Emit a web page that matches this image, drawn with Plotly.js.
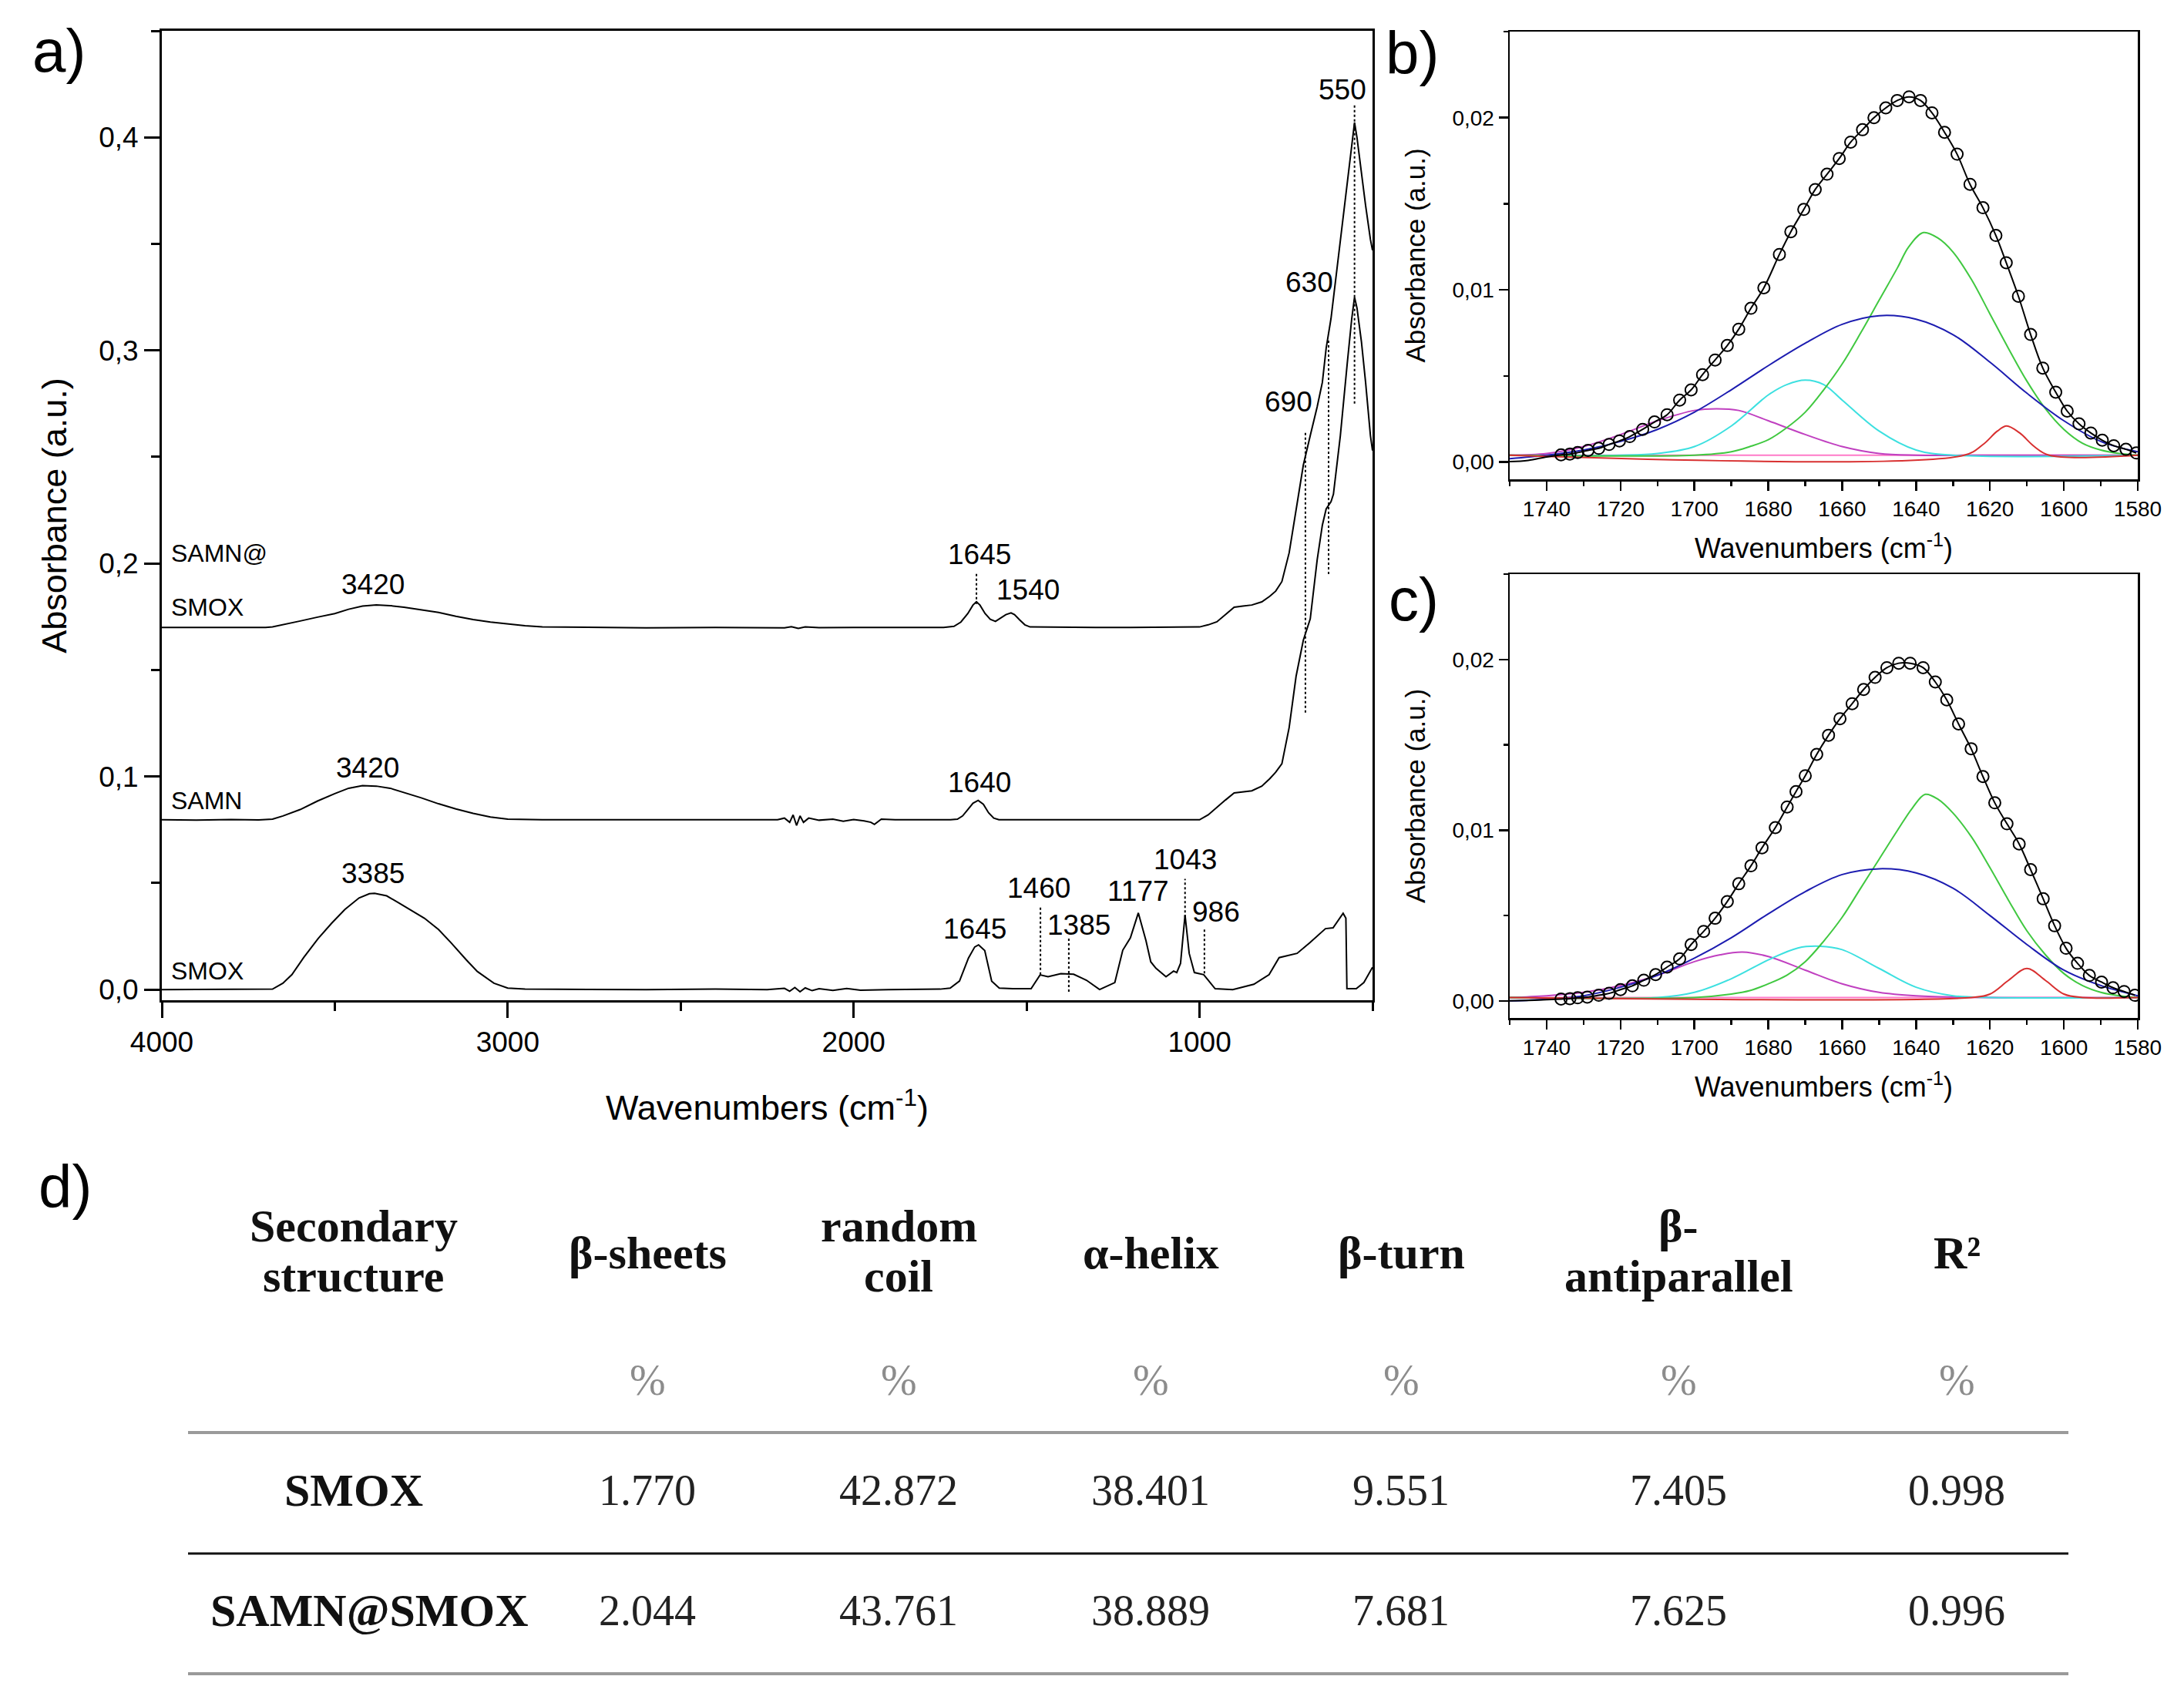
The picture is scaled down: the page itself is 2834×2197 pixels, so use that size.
<!DOCTYPE html>
<html>
<head>
<meta charset="utf-8">
<script src="https://cdn.plot.ly/plotly-3.0.1.min.js"></script>
<style>html,body{margin:0;padding:0;background:#fff;}#plot{width:2834px;height:2197px;}</style>
</head>
<body>
<div id="plot"></div>
<script>
// ---------------- Panel a: FTIR spectra ----------------
const smoxX = [4000,3900,3800,3700,3680,3650,3624,3590,3548,3510,3471,3430,3400,3385,3350,3318,3280,3241,3200,3164,3120,3088,3040,3000,2950,2800,2600,2400,2250,2200,2185,2170,2155,2140,2120,2100,2060,2020,1980,1900,1800,1750,1721,1694,1668,1650,1639,1621,1601,1579,1540,1487,1461,1438,1401,1364,1327,1289,1245,1222,1200,1177,1155,1141,1126,1111,1097,1075,1066,1055,1042,1030,1015,988,955,904,843,799,770,718,681,636,614,585,577,574,547,525,500];
const smoxY = [0,0,0,0,0.0002,0.0030,0.0070,0.0150,0.0240,0.0310,0.0376,0.0430,0.0450,0.0452,0.0440,0.0410,0.0372,0.0335,0.0282,0.0220,0.0140,0.0085,0.0030,0.0007,0.0002,0,0,0.0002,0,0.0006,-0.0008,0.0010,-0.0010,0.0008,-0.0005,0.0004,-0.0004,0.0005,-0.0003,0,0,0.0002,0.0007,0.0040,0.0148,0.0200,0.0210,0.0183,0.0040,0.0007,0.0004,0.0004,0.0069,0.0060,0.0075,0.0072,0.0044,0.0000,0.0033,0.0185,0.0243,0.0360,0.0230,0.0130,0.0100,0.0080,0.0060,0.0087,0.0080,0.0123,0.0350,0.0170,0.0080,0.0070,0.0004,0.0000,0.0025,0.0070,0.0150,0.0170,0.0220,0.0286,0.0290,0.0358,0.0335,0.0004,0.0004,0.0033,0.0105];

const samnX = [4000,3900,3800,3720,3680,3650,3600,3550,3500,3460,3420,3380,3340,3300,3250,3200,3150,3100,3050,3000,2900,2700,2500,2300,2220,2200,2185,2175,2165,2155,2145,2130,2100,2060,2030,2000,1970,1950,1940,1920,1880,1800,1720,1700,1685,1670,1655,1640,1625,1610,1595,1580,1500,1400,1300,1200,1100,1000,975,951,925,900,875,849,820,797,780,762,741,721,700,680,660,645,634,620,613,593,573,560,552,545,532,520,506,500];
const samnY = [0.0797,0.0795,0.0798,0.0796,0.0800,0.0815,0.0845,0.0885,0.0920,0.0945,0.0957,0.0955,0.0945,0.0925,0.0900,0.0872,0.0848,0.0827,0.0810,0.0800,0.0797,0.0797,0.0797,0.0798,0.0797,0.0805,0.0785,0.0820,0.0770,0.0815,0.0785,0.0805,0.0795,0.0800,0.0790,0.0798,0.0792,0.0785,0.0775,0.0800,0.0797,0.0797,0.0797,0.0800,0.0815,0.0845,0.0875,0.0888,0.0870,0.0830,0.0805,0.0797,0.0797,0.0797,0.0797,0.0797,0.0797,0.0797,0.0820,0.0855,0.0890,0.0923,0.0928,0.0933,0.0955,0.0990,0.1020,0.1060,0.1230,0.1470,0.1640,0.1740,0.2017,0.2180,0.2256,0.2290,0.2325,0.2600,0.2940,0.3150,0.3250,0.3200,0.3040,0.2850,0.2600,0.2530];

const samnSmoxX = [4000,3900,3800,3700,3680,3640,3600,3550,3500,3460,3420,3380,3340,3300,3250,3200,3150,3100,3050,3000,2950,2900,2800,2600,2400,2200,2180,2160,2140,2100,2000,1900,1800,1740,1710,1690,1670,1655,1645,1635,1620,1605,1590,1575,1560,1545,1535,1520,1505,1490,1400,1300,1200,1100,1000,975,950,925,900,875,849,820,797,780,762,741,721,700,680,660,645,634,620,603,588,573,560,552,545,532,520,506,500];
const samnSmoxY = [0.1700,0.1700,0.1698,0.1700,0.1702,0.1715,0.1730,0.1748,0.1765,0.1785,0.1800,0.1805,0.1802,0.1795,0.1783,0.1770,0.1752,0.1737,0.1725,0.1716,0.1708,0.1702,0.1700,0.1698,0.1700,0.1698,0.1703,0.1695,0.1702,0.1699,0.1700,0.1700,0.1700,0.1700,0.1705,0.1725,0.1765,0.1805,0.1820,0.1805,0.1765,0.1738,0.1728,0.1745,0.1760,0.1768,0.1760,0.1735,0.1712,0.1702,0.1700,0.1700,0.1700,0.1700,0.1702,0.1712,0.1726,0.1760,0.1795,0.1800,0.1805,0.1820,0.1846,0.1870,0.1915,0.2050,0.2256,0.2462,0.2600,0.2735,0.2850,0.3010,0.3150,0.3380,0.3600,0.3795,0.3980,0.4070,0.4000,0.3830,0.3680,0.3520,0.3470];

// peak labels (panel a)
const peakLabels = ['550','630','690','1645','1540','3420','3420','1640','3385','1645','1460','1385','1177','1043','986'];
const peakLabelWn = [587,683,743,1636,1496,3389,3405,1636,3389,1650,1465,1349,1178,1042,953];
const peakLabelY = [0.4224,0.332,0.276,0.2043,0.1877,0.190,0.1042,0.097,0.0546,0.0286,0.0477,0.0304,0.046,0.061,0.0365];
// dotted marker lines (panel a)
const dropWn = [552,627,694,1645,1460,1378,1042,986];
const dropTop = [0.415,0.305,0.262,0.196,0.0394,0.024,0.052,0.0286];
const dropBottom = [0.275,0.195,0.130,0.181,0.007,-0.001,0.034,0.0076];
// sample names (panel a)
const sampleNames = ['SAMN@','SMOX','SAMN','SMOX'];
const sampleNameY = [0.2047,0.1794,0.0886,0.0087];

// ---------------- Panel b: SMOX amide I deconvolution ----------------
const bCircX = [1736.1,1733.7,1731.6,1728.8,1725.9,1723.1,1720.3,1717.5,1714.0,1710.8,1707.4,1704.0,1700.9,1697.8,1694.4,1691.1,1688.0,1684.7,1681.2,1677.0,1673.9,1670.4,1667.3,1664.1,1660.8,1657.7,1654.5,1651.4,1648.2,1645.1,1641.9,1638.8,1635.7,1632.3,1628.9,1625.4,1621.9,1618.4,1615.6,1612.3,1609.0,1605.7,1602.2,1599.1,1595.9,1592.7,1589.6,1586.5,1583.2,1580.4];
const bCircY = [0.00042,0.00047,0.00055,0.00068,0.00080,0.00102,0.00123,0.00148,0.00190,0.00233,0.00275,0.00360,0.00419,0.00508,0.00593,0.00677,0.00772,0.00893,0.01012,0.01206,0.01338,0.01467,0.01583,0.01672,0.01763,0.01858,0.01930,0.02000,0.02057,0.02100,0.02121,0.02100,0.02028,0.01915,0.01788,0.01613,0.01477,0.01316,0.01158,0.00963,0.00741,0.00546,0.00406,0.00296,0.00222,0.00169,0.00127,0.00095,0.00074,0.00053];
const bFitLeadX = [1750,1745,1740];
const bFitLeadY = [0.00003,0.0001,0.0003];
const bBaseX = [1750,1580];
const bBaseY = [0.0004,0.0004];
const bMagX = [1750,1740,1730,1720,1710,1700,1694,1688,1680,1670,1660,1650,1640,1620,1580];
const bMagY = [0.0004,0.0005,0.0009,0.0016,0.0024,0.0030,0.0031,0.0030,0.0024,0.0016,0.0009,0.0005,0.0004,0.0004,0.0004];
const bCyanX = [1750,1720,1710,1700,1690,1680,1675,1670,1665,1660,1650,1640,1630,1580];
const bCyanY = [0.0004,0.0004,0.0005,0.0009,0.0021,0.0039,0.0045,0.00476,0.0045,0.0036,0.0018,0.0007,0.0004,0.0004];
const bBlueX = [1750,1740,1730,1720,1710,1700,1690,1680,1670,1660,1650,1640,1630,1620,1610,1600,1590,1580];
const bBlueY = [0.0002,0.0004,0.0007,0.0012,0.0019,0.0029,0.0042,0.0056,0.0069,0.0080,0.0085,0.0083,0.0074,0.0058,0.0040,0.0024,0.0012,0.0006];
const bGreenX = [1750,1700,1690,1685,1680,1675,1670,1665,1660,1655,1650,1645,1642,1638,1634,1630,1625,1620,1615,1610,1605,1600,1595,1590,1585,1580];
const bGreenY = [0.0004,0.0004,0.0006,0.0009,0.0013,0.0020,0.0029,0.0042,0.0057,0.0075,0.0094,0.0113,0.0125,0.01333,0.0130,0.0122,0.0106,0.0086,0.0066,0.0047,0.0031,0.0019,0.0011,0.0007,0.0005,0.0004];
const bRedX = [1750,1627,1622,1618,1615.5,1612,1608,1604,1580];
const bRedY = [0.0004,0.0004,0.0010,0.0018,0.0021,0.0017,0.0009,0.0004,0.0004];

// ---------------- Panel c: SAMN@SMOX amide I deconvolution ----------------
const cCircX = [1736.1,1733.7,1731.6,1729.0,1725.9,1723.1,1720.0,1716.8,1713.7,1710.5,1707.4,1704.0,1700.9,1697.5,1694.4,1691.1,1688.0,1684.7,1681.7,1678.1,1674.9,1672.5,1670.0,1666.9,1663.7,1660.6,1657.3,1654.2,1651.1,1647.9,1644.7,1641.6,1638.1,1634.8,1631.7,1628.5,1625.1,1621.9,1618.7,1615.4,1612.1,1609.0,1605.6,1602.5,1599.4,1596.3,1593.1,1589.8,1586.7,1583.7,1580.8];
const cCircY = [0.00011,0.00013,0.00018,0.00022,0.00033,0.00044,0.00066,0.00088,0.00121,0.00154,0.00198,0.00246,0.00330,0.00407,0.00484,0.00582,0.00686,0.00791,0.00897,0.01015,0.01136,0.01226,0.01319,0.01444,0.01556,0.01653,0.01741,0.01824,0.01895,0.01952,0.01978,0.01978,0.01952,0.01868,0.01763,0.01622,0.01477,0.01314,0.01160,0.01037,0.00919,0.00769,0.00598,0.00440,0.00308,0.00220,0.00149,0.00110,0.00077,0.00055,0.00033];
const cFitLeadX = [1750,1745,1740];
const cFitLeadY = [0.0000,0.00003,0.00007];
const cBaseX = [1750,1580];
const cBaseY = [0.0002,0.0002];
const cMagX = [1750,1740,1730,1720,1710,1700,1693,1687,1680,1670,1660,1650,1640,1620,1580];
const cMagY = [0.0002,0.0003,0.0005,0.0009,0.0015,0.0023,0.0027,0.00286,0.0026,0.0018,0.0010,0.0005,0.0003,0.0002,0.0002];
const cCyanX = [1750,1710,1700,1690,1680,1672,1666,1660,1650,1640,1630,1620,1580];
const cCyanY = [0.0002,0.0002,0.0005,0.0013,0.0024,0.0031,0.0032,0.0030,0.0019,0.0008,0.0003,0.0002,0.0002];
const cBlueX = [1750,1740,1730,1720,1710,1700,1690,1680,1670,1660,1650,1640,1630,1620,1610,1600,1590,1580];
const cBlueY = [0.0000,0.0001,0.0003,0.0008,0.0015,0.0025,0.0037,0.0051,0.0064,0.0074,0.00774,0.0075,0.0066,0.0050,0.0033,0.0018,0.0009,0.0003];
const cGreenX = [1750,1700,1690,1685,1680,1675,1670,1665,1660,1655,1650,1645,1641,1637.5,1634,1630,1625,1620,1615,1610,1605,1600,1595,1590,1585,1580];
const cGreenY = [0.0002,0.0002,0.0004,0.0006,0.0010,0.0015,0.0023,0.0035,0.0049,0.0066,0.0083,0.0100,0.0113,0.0121,0.0118,0.0110,0.0096,0.0078,0.0059,0.0041,0.0027,0.0016,0.0009,0.0005,0.0003,0.0002];
const cRedX = [1750,1625,1620,1615,1610,1605,1600,1595,1580];
const cRedY = [0.0002,0.0002,0.0004,0.0012,0.0019,0.0012,0.0004,0.0002,0.0002];

// ---------------- Panel d: table ----------------
const tableHeaders = [['Secondary','structure'],['β-sheets'],['random','coil'],['α-helix'],['β-turn'],['β-','antiparallel'],['R²']];
const tableUnits = ['','%','%','%','%','%','%'];
const rowNames = ['SMOX','SAMN@SMOX'];
const smoxValues = ['1.770','42.872','38.401','9.551','7.405','0.998'];
const samnSmoxValues = ['2.044','43.761','38.889','7.681','7.625','0.996'];

// ---------------- Layout helpers ----------------
const W = 2834, H = 2197;
const px = x => x / W;
const py = y => 1 - y / H;
const SANS = 'Liberation Sans, Arial, sans-serif';
const SERIF = 'Liberation Serif, Times New Roman, serif';

const compColors = {base:'#ff7ac8', mag:'#c040c0', cyan:'#3ce0e0', blue:'#1c1cb0', green:'#40c840', red:'#d83030'};

function line(x, y, xa, ya, color, width, shape) {
  return {type:'scatter', mode:'lines', x:x, y:y, xaxis:xa, yaxis:ya,
          line:{color:color, width:width, shape:shape || 'linear'}, hoverinfo:'skip'};
}

const traces = [
  line(samnSmoxX, samnSmoxY, 'x', 'y', '#000', 2),
  line(samnX, samnY, 'x', 'y', '#000', 2),
  line(smoxX, smoxY, 'x', 'y', '#000', 2),

  line(bBaseX, bBaseY, 'x2', 'y2', compColors.base, 2),
  line(bMagX, bMagY, 'x2', 'y2', compColors.mag, 2, 'spline'),
  line(bCyanX, bCyanY, 'x2', 'y2', compColors.cyan, 2, 'spline'),
  line(bGreenX, bGreenY, 'x2', 'y2', compColors.green, 2, 'spline'),
  line(bBlueX, bBlueY, 'x2', 'y2', compColors.blue, 2, 'spline'),
  line(bRedX, bRedY, 'x2', 'y2', compColors.red, 2, 'spline'),
  line(bFitLeadX.concat(bCircX), bFitLeadY.concat(bCircY), 'x2', 'y2', '#000', 2, 'spline'),
  {type:'scatter', mode:'markers', x:bCircX, y:bCircY, xaxis:'x2', yaxis:'y2',
   marker:{symbol:'circle-open', size:15, color:'#000', line:{width:2, color:'#000'}}},

  line(cBaseX, cBaseY, 'x3', 'y3', compColors.base, 2),
  line(cMagX, cMagY, 'x3', 'y3', compColors.mag, 2, 'spline'),
  line(cCyanX, cCyanY, 'x3', 'y3', compColors.cyan, 2, 'spline'),
  line(cGreenX, cGreenY, 'x3', 'y3', compColors.green, 2, 'spline'),
  line(cBlueX, cBlueY, 'x3', 'y3', compColors.blue, 2, 'spline'),
  line(cRedX, cRedY, 'x3', 'y3', compColors.red, 2, 'spline'),
  line(cFitLeadX.concat(cCircX), cFitLeadY.concat(cCircY), 'x3', 'y3', '#000', 2, 'spline'),
  {type:'scatter', mode:'markers', x:cCircX, y:cCircY, xaxis:'x3', yaxis:'y3',
   marker:{symbol:'circle-open', size:15, color:'#000', line:{width:2, color:'#000'}}}
];

function axisBase(fontSize, tlen, mlen, lw) {
  return {showline:true, linecolor:'#000', linewidth:lw, mirror:true, showgrid:false, zeroline:false,
          ticks:'outside', ticklen:tlen, tickwidth:lw, tickcolor:'#000',
          tickfont:{family:SANS, size:fontSize, color:'#000'},
          minor:{ticks:'outside', ticklen:mlen, tickwidth:lw, tickcolor:'#000', showgrid:false}};
}

const xa = Object.assign(axisBase(37, 20, 11, 3), {
  domain:[px(210), px(1781)], range:[4000, 500], anchor:'y',
  tickmode:'linear', tick0:0, dtick:1000, tickformat:'d',
  title:{text:'Wavenumbers (cm<sup>-1</sup>)', font:{family:SANS, size:45, color:'#000'}, standoff:50}
});
xa.minor.dtick = 500; xa.minor.tick0 = 0;
const ya = Object.assign(axisBase(37, 20, 11, 3), {
  domain:[py(1298), py(40)], range:[-0.005, 0.45], anchor:'x',
  tickmode:'linear', tick0:0, dtick:0.1, tickformat:'.1f',
  title:{text:'Absorbance (a.u.)', font:{family:SANS, size:45, color:'#000'}, standoff:28}
});
ya.minor.dtick = 0.05; ya.minor.tick0 = 0;

function xSmall(yanchor) {
  const a = Object.assign(axisBase(28, 12, 6, 2.5), {
    domain:[px(1959), px(2774)], range:[1750, 1580], anchor:yanchor,
    tickmode:'linear', tick0:0, dtick:20, tickformat:'d',
    title:{text:'Wavenumbers (cm<sup>-1</sup>)', font:{family:SANS, size:36, color:'#000'}, standoff:24}
  });
  a.minor.dtick = 10; a.minor.tick0 = 0;
  return a;
}
function ySmall(xanchor, top, bottom) {
  const a = Object.assign(axisBase(28, 12, 6, 2.5), {
    domain:[py(bottom), py(top)], range:[-0.001, 0.025], anchor:xanchor,
    tickmode:'linear', tick0:0, dtick:0.01, tickformat:'.2f',
    title:{text:'Absorbance (a.u.)', font:{family:SANS, size:35, color:'#000'}, standoff:24}
  });
  a.minor.dtick = 0.005; a.minor.tick0 = 0;
  return a;
}

const annotations = [];
// panel letters
[['a)',76,66],['b)',1832,69],['c)',1835,778],['d)',84,1540]].forEach(p => {
  annotations.push({text:p[0], xref:'paper', yref:'paper', x:px(p[1]), y:py(p[2]),
    xanchor:'center', yanchor:'middle', showarrow:false, font:{family:SANS, size:78, color:'#000'}});
});
// peak labels
peakLabels.forEach((t, i) => {
  annotations.push({text:t, xref:'x', yref:'y', x:peakLabelWn[i], y:peakLabelY[i],
    xanchor:'center', yanchor:'middle', showarrow:false, font:{family:SANS, size:37, color:'#000'}});
});
sampleNames.forEach((t, i) => {
  annotations.push({text:t, xref:'x', yref:'y', x:3978, y:sampleNameY[i],
    xanchor:'left', yanchor:'middle', showarrow:false, font:{family:SANS, size:32, color:'#000'}});
});

// table
const colCenters = [459, 840, 1166, 1493, 1818, 2178, 2539];
tableHeaders.forEach((lines, i) => {
  const ys = lines.length === 2 ? [1591, 1656] : [1626];
  lines.forEach((t, k) => {
    annotations.push({text:'<b>' + t + '</b>', xref:'paper', yref:'paper', x:px(colCenters[i]), y:py(ys[k]),
      xanchor:'center', yanchor:'middle', showarrow:false, font:{family:SERIF, size:60, color:'#111'}});
  });
});
tableUnits.forEach((t, i) => {
  if (!t) return;
  annotations.push({text:t, xref:'paper', yref:'paper', x:px(colCenters[i]), y:py(1791),
    xanchor:'center', yanchor:'middle', showarrow:false, font:{family:SERIF, size:56, color:'#8c8c8c'}});
});
[smoxValues, samnSmoxValues].forEach((vals, r) => {
  const yc = r === 0 ? 1934 : 2090;
  annotations.push({text:'<b>' + rowNames[r] + '</b>', xref:'paper', yref:'paper', x:px(colCenters[0] + (r === 1 ? 20 : 0)), y:py(yc),
    xanchor:'center', yanchor:'middle', showarrow:false, font:{family:SERIF, size:60, color:'#111'}});
  vals.forEach((v, i) => {
    annotations.push({text:v, xref:'paper', yref:'paper', x:px(colCenters[i + 1]), y:py(yc),
      xanchor:'center', yanchor:'middle', showarrow:false, font:{family:SERIF, size:56, color:'#222'}});
  });
});

const shapes = [];
dropWn.forEach((w, i) => {
  shapes.push({type:'line', xref:'x', yref:'y', x0:w, x1:w, y0:dropBottom[i], y1:dropTop[i],
    line:{color:'#000', width:2, dash:'dot'}});
});
[[1859, '#9a9a9a', 4], [2016, '#111', 3], [2172, '#9a9a9a', 4]].forEach(l => {
  shapes.push({type:'line', xref:'paper', yref:'paper', x0:px(244), x1:px(2684), y0:py(l[0]), y1:py(l[0]),
    line:{color:l[1], width:l[2]}});
});

const layout = {
  width:W, height:H, margin:{l:0, r:0, t:0, b:0}, paper_bgcolor:'#fff', plot_bgcolor:'#fff',
  showlegend:false, separators:',.',
  font:{family:SANS, color:'#000'},
  xaxis:xa, yaxis:ya,
  xaxis2:xSmall('y2'), yaxis2:ySmall('x2', 41, 622),
  xaxis3:xSmall('y3'), yaxis3:ySmall('x3', 745, 1321),
  annotations:annotations, shapes:shapes
};

Plotly.newPlot('plot', traces, layout, {staticPlot:true});
</script>
</body>
</html>
